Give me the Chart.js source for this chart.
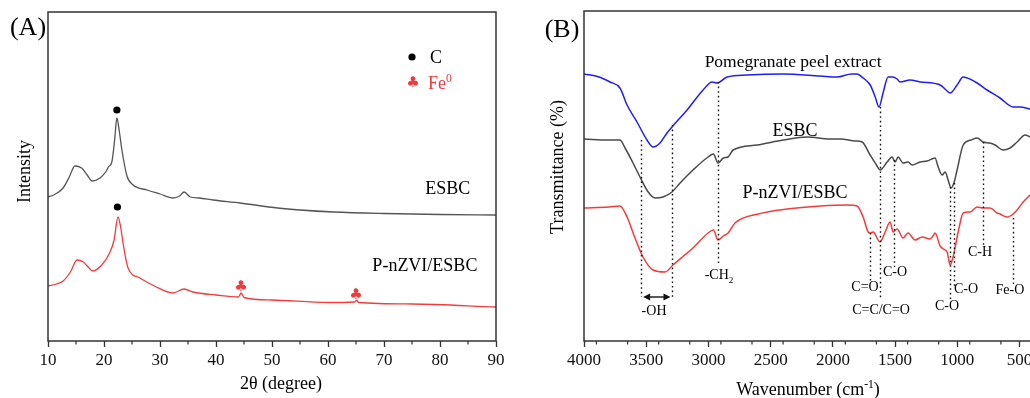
<!DOCTYPE html>
<html>
<head>
<meta charset="utf-8">
<script src="https://cdn.jsdelivr.net/npm/chart.js@4.4.1/dist/chart.umd.min.js"></script>
<style>
  html, body { margin: 0; padding: 0; background: #fff; overflow: hidden; width: 1030px; height: 398px; }
  #xrd { position: absolute; left: 0; top: 0; }
  #ftir { position: absolute; left: 520px; top: 0; }
</style>
</head>
<body>
<canvas id="xrd" width="515" height="398"></canvas>
<canvas id="ftir" width="530" height="398"></canvas>
<script>
const SERIF = '"Liberation Serif", "Times New Roman", serif';
const AXIS = '#333';

// ---- (A) XRD data, intensity in arbitrary units ----
const xrdTicks = [10, 20, 30, 40, 50, 60, 70, 80, 90];
const esbcTheta = [10, 11, 12.7, 13.8, 14.8, 16, 17, 17.9, 19.3, 20.3, 20.8, 21.4, 21.9, 22.3, 22.7, 23.2, 24.1, 25.2, 27.7, 30,
  32.3, 33.5, 34.3, 35.4, 37, 39.5, 44.3, 51, 55, 61, 70, 80, 90];
const esbcXrd = [144, 146, 153, 164, 175, 173, 166, 160, 163, 169, 174, 179, 201, 223, 211, 191, 165, 156, 151, 147,
  143, 145, 149, 144, 143, 141, 138, 133, 131, 129, 127.5, 126.5, 126];
const pnzviTheta = [10, 11.5, 12.7, 14, 15.2, 16.3, 17, 18, 19.6, 21, 21.8, 22.5, 23, 23.4, 24.3, 26.4, 29, 32.3, 34.3, 35.9,
  40, 44, 44.5, 45, 50, 60, 64.7, 65.1, 65.5, 75, 90];
const pnzviXrd = [55, 57, 60, 69, 81, 79, 75, 70, 76, 88, 101, 124, 113, 98, 73, 63, 55, 48, 52, 49,
  46, 44, 48, 43.5, 41, 38.5, 39, 40.5, 38.5, 37, 34];
const carbonTheta = [22.3, 22.4];
const carbonMark = [231, 134];
const ironTheta = [44.45, 65.0];
const ironMark = [54, 46];

// ---- (B) FTIR data, transmittance in arbitrary units ----
const ftirTicks = [4000, 3500, 3000, 2500, 2000, 1500, 1000, 500];
const peelWave = [4000, 3880, 3791, 3711, 3654, 3574, 3494, 3445, 3389, 3333, 3293, 3172, 3043, 2971, 2931, 2850, 2690, 2400, 2103, 1966,
  1850, 1806, 1757, 1700, 1660, 1629, 1597, 1556, 1520, 1484, 1460, 1380, 1299, 1138, 1090, 1058, 1002, 953, 900, 841,
  761, 657, 551, 496, 415];
const peelT = [267, 264, 259, 253, 236, 219, 201, 194, 198, 208, 214, 231, 251, 259, 258, 264, 266, 267, 265, 264,
  267, 267, 263, 256, 244, 234, 248, 264, 264, 262, 259, 261, 259, 256, 251, 248, 256, 264, 262, 258,
  251, 243, 234, 234, 232];
const esbcWave = [4000, 3800, 3711, 3670, 3610, 3550, 3490, 3429, 3365, 3293, 3228, 3124, 3003, 2960, 2923, 2880, 2842, 2802, 2609, 2400,
  2207, 2023, 1942, 1820, 1765, 1701, 1650, 1621, 1564, 1524, 1500, 1476, 1436, 1396, 1363, 1299, 1243, 1179, 1154, 1122,
  1098, 1074, 1050, 1025, 1002, 953, 890, 841, 793, 740, 697, 633, 576, 520, 455, 415];
const esbcT = [202, 201, 201, 193, 179, 164, 150, 143, 144, 149, 158, 171, 184, 187, 178, 183, 184, 191, 196, 201,
  204, 202, 202, 200, 199, 186, 176, 171, 179, 184, 179, 184, 178, 179, 176, 179, 180, 183, 174, 166,
  169, 161, 153, 159, 171, 196, 201, 203, 199, 198, 196, 191, 193, 199, 206, 204];
const pnzviWave = [4000, 3800, 3711, 3654, 3590, 3526, 3445, 3349, 3285, 3200, 3124, 3003, 2960, 2923, 2880, 2842, 2786, 2600, 2368, 2100,
  1886, 1806, 1757, 1717, 1701, 1677, 1621, 1580, 1540, 1516, 1484, 1436, 1396, 1339, 1283, 1220, 1195, 1179, 1138, 1098,
  1082, 1058, 1034, 990, 953, 897, 841, 793, 737, 680, 657, 600, 551, 520, 471, 415];
const pnzviT = [133, 134, 135, 124, 103, 84, 71, 69, 76, 85, 93, 108, 111, 101, 105, 108, 118, 127, 132, 135,
  136, 135, 124, 109, 108, 109, 99, 109, 119, 109, 112, 103, 108, 101, 104, 102, 105, 108, 95, 91,
  89, 76, 84, 111, 128, 129, 134, 133, 133, 128, 127, 124, 127, 131, 139, 146];

// band markers: wavenumber, top and bottom of the dotted guide
const bandWave = [3540, 3290, 2921, 1702, 1622, 1509, 1059, 1027, 796, 555];
const bandTop = [201, 216, 259, 108, 234, 181, 154, 158, 199, 123];
const bandBottom = [44, 44, 75, 59, 41, 74, 41, 54, 96, 56];
// band labels: text, wavenumber, height
const bandText = [
  [['-OH', 0]],
  [['-CH', 0], ['2', -1]],
  [['C=O', 0]],
  [['C=C/C=O', 0]],
  [['C-O', 0]],
  [['C-O', 0]],
  [['C-O', 0]],
  [['C-H', 0]],
  [['Fe-O', 0]]
];
const bandTextWave = [3437, 2915, 1742, 1613, 1501, 1083, 930, 818, 577];
const bandTextT = [30, 66, 54, 31, 69, 35, 52, 89, 51];

const pts = (xs, ys) => xs.map((x, i) => ({ x: x, y: ys[i] }));

function rich(ctx, parts, x, y, size, color, align) {
  ctx.save();
  ctx.fillStyle = color;
  ctx.textBaseline = 'alphabetic';
  ctx.textAlign = 'left';
  const fontOf = m => (m ? size * 0.65 : size) + 'px ' + SERIF;
  const widths = parts.map(([t, m]) => { ctx.font = fontOf(m); return ctx.measureText(t).width; });
  const total = widths.reduce((a, b) => a + b, 0);
  let cx = align === 'center' ? x - total / 2 : align === 'right' ? x - total : x;
  const base = y + size * 0.32;
  parts.forEach(([t, m], i) => {
    ctx.font = fontOf(m);
    ctx.fillText(t, cx, base + (m === 1 ? -size * 0.38 : m === -1 ? size * 0.25 : 0));
    cx += widths[i];
  });
  ctx.restore();
}

function frameAndMinor(chart, step) {
  const ctx = chart.ctx, ca = chart.chartArea, x = chart.scales.x;
  ctx.save();
  ctx.strokeStyle = AXIS;
  ctx.lineWidth = 1.5;
  ctx.strokeRect(ca.left, ca.top, ca.right - ca.left, ca.bottom - ca.top);
  ctx.lineWidth = 1.2;
  for (let v = x.min; v <= x.max; v += step) {
    if (v % (step * 2) === 0) continue;
    const px = x.getPixelForValue(v);
    ctx.beginPath();
    ctx.moveTo(px, ca.bottom);
    ctx.lineTo(px, ca.bottom + 3.5);
    ctx.stroke();
  }
  ctx.restore();
}

function club(ctx, x, y, size, color) {
  ctx.save();
  ctx.fillStyle = color;
  ctx.font = size + 'px "DejaVu Sans"';
  ctx.textAlign = 'center';
  ctx.textBaseline = 'middle';
  ctx.fillText('\u2663', x, y);
  ctx.restore();
}

const xrdDecor = {
  id: 'xrdDecor',
  afterDraw(chart) {
    const ctx = chart.ctx, ca = chart.chartArea, x = chart.scales.x, y = chart.scales.y;
    frameAndMinor(chart, 5);
    ironTheta.forEach((t, i) => club(ctx, x.getPixelForValue(t), y.getPixelForValue(ironMark[i]), 15, '#ee3b3b'));
    // legend
    ctx.save();
    ctx.fillStyle = '#000';
    ctx.beginPath();
    ctx.arc(ca.left + 364, ca.top + 45, 3.6, 0, Math.PI * 2);
    ctx.fill();
    ctx.restore();
    rich(ctx, [['C', 0]], ca.left + 382, ca.top + 45, 18, '#000', 'left');
    club(ctx, ca.left + 365, ca.top + 71, 15, '#ee3b3b');
    rich(ctx, [['Fe', 0], ['0', 1]], ca.left + 380, ca.top + 71, 18, '#ee3b3b', 'left');
    // curve names
    rich(ctx, [['ESBC', 0]], x.getPixelForValue(81.4), y.getPixelForValue(153), 18, '#000', 'center');
    rich(ctx, [['P-nZVI/ESBC', 0]], x.getPixelForValue(77.3), y.getPixelForValue(76), 18, '#000', 'center');
    // titles
    rich(ctx, [['(A)', 0]], 28, 27, 26, '#000', 'center');
    rich(ctx, [['2\u03b8 (degree)', 0]], 281, 383, 18, '#000', 'center');
    ctx.save();
    ctx.translate(24, (ca.top + ca.bottom) / 2 - 5);
    ctx.rotate(-Math.PI / 2);
    rich(ctx, [['Intensity', 0]], 0, 0, 18, '#000', 'center');
    ctx.restore();
  }
};

const ftirDecor = {
  id: 'ftirDecor',
  afterDraw(chart) {
    const ctx = chart.ctx, ca = chart.chartArea, x = chart.scales.x, y = chart.scales.y;
    frameAndMinor(chart, 250);
    ctx.save();
    ctx.strokeStyle = '#111';
    ctx.lineWidth = 1.4;
    ctx.setLineDash([1.6, 3]);
    bandWave.forEach((w, i) => {
      const px = Math.round(x.getPixelForValue(w)) + 0.5;
      ctx.beginPath();
      ctx.moveTo(px, y.getPixelForValue(bandTop[i]));
      ctx.lineTo(px, y.getPixelForValue(bandBottom[i]));
      ctx.stroke();
    });
    ctx.setLineDash([]);
    // -OH double arrow
    const ax1 = x.getPixelForValue(3525), ax2 = x.getPixelForValue(3305), ay = y.getPixelForValue(44);
    ctx.lineWidth = 1.4;
    ctx.beginPath();
    ctx.moveTo(ax1 + 2, ay);
    ctx.lineTo(ax2 - 2, ay);
    ctx.stroke();
    ctx.fillStyle = '#111';
    [[ax1, 1], [ax2, -1]].forEach(([px, d]) => {
      ctx.beginPath();
      ctx.moveTo(px, ay);
      ctx.lineTo(px + d * 7, ay - 3.5);
      ctx.lineTo(px + d * 7, ay + 3.5);
      ctx.closePath();
      ctx.fill();
    });
    ctx.restore();
    bandText.forEach((parts, i) => {
      rich(ctx, parts, x.getPixelForValue(bandTextWave[i]), y.getPixelForValue(bandTextT[i]), 14, '#000', 'center');
    });
    // curve names
    rich(ctx, [['Pomegranate peel extract', 0]], x.getPixelForValue(2320), y.getPixelForValue(280), 17.5, '#000', 'center');
    rich(ctx, [['ESBC', 0]], x.getPixelForValue(2304), y.getPixelForValue(211), 18, '#000', 'center');
    rich(ctx, [['P-nZVI/ESBC', 0]], x.getPixelForValue(2304), y.getPixelForValue(149), 18, '#000', 'center');
    // titles
    rich(ctx, [['(B)', 0]], 42, 29, 26, '#000', 'center');
    rich(ctx, [['Wavenumber (cm', 0], ['-1', 1], [')', 0]], 288, 389, 18, '#000', 'center');
    ctx.save();
    ctx.translate(37, 167);
    ctx.rotate(-Math.PI / 2);
    rich(ctx, [['Transmittance (%)', 0]], 0, 0, 18, '#000', 'center');
    ctx.restore();
  }
};

const lineSet = (data, color, width) => ({
  data: data, borderColor: color, borderWidth: width, pointRadius: 0,
  fill: false, cubicInterpolationMode: 'monotone'
});

const xAxis = (min, max, tickValues, reverse, height) => ({
  type: 'linear', min: min, max: max, reverse: reverse,
  afterBuildTicks: s => { s.ticks = tickValues.map(v => ({ value: v })); },
  ticks: { color: '#111', font: { family: SERIF, size: 17 }, padding: 3, maxRotation: 0, autoSkip: false,
    callback: v => String(v) },
  grid: { display: true, drawOnChartArea: false, drawTicks: true, tickLength: 6, tickColor: AXIS, tickWidth: 1.3 },
  border: { display: false },
  afterFit: s => { s.height = height; }
});

const yAxis = (max, width) => ({
  min: 0, max: max,
  ticks: { display: false },
  grid: { display: false },
  border: { display: false },
  afterFit: s => { s.width = width; }
});

new Chart(document.getElementById('xrd'), {
  type: 'line',
  data: {
    datasets: [
      lineSet(pts(esbcTheta, esbcXrd), '#555', 1.3),
      lineSet(pts(pnzviTheta, pnzviXrd), '#f23c3c', 1.3),
      { type: 'scatter', data: pts(carbonTheta, carbonMark), pointRadius: 3.6, pointBackgroundColor: '#000', pointBorderWidth: 0 }
    ]
  },
  options: {
    responsive: false, animation: false, devicePixelRatio: 1,
    layout: { padding: { left: 0, right: 19, top: 12, bottom: 0 } },
    plugins: { legend: { display: false }, tooltip: { enabled: false } },
    scales: { x: xAxis(10, 90, xrdTicks, false, 57), y: yAxis(329, 48) }
  },
  plugins: [xrdDecor]
});

new Chart(document.getElementById('ftir'), {
  type: 'line',
  data: {
    datasets: [
      lineSet(pts(peelWave, peelT), '#1f1ff5', 1.5),
      lineSet(pts(esbcWave, esbcT), '#4a4a4a', 1.5),
      lineSet(pts(pnzviWave, pnzviT), '#f23c3c', 1.5)
    ]
  },
  options: {
    responsive: false, animation: false, devicePixelRatio: 1,
    layout: { padding: { left: 0, right: 18, top: 11, bottom: 0 } },
    plugins: { legend: { display: false }, tooltip: { enabled: false } },
    scales: { x: xAxis(400, 4000, ftirTicks, true, 57), y: yAxis(330, 64) }
  },
  plugins: [ftirDecor]
});
</script>
</body>
</html>
